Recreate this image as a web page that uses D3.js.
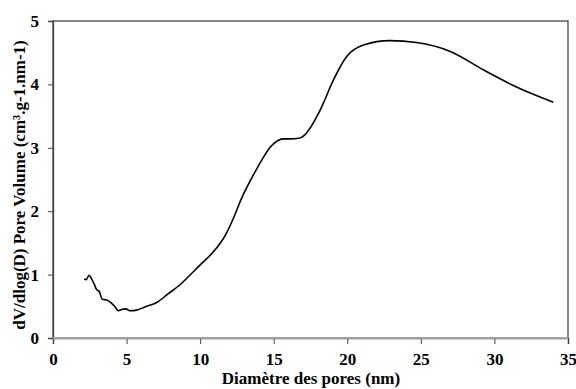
<!DOCTYPE html>
<html><head><meta charset="utf-8">
<script src="https://cdn.jsdelivr.net/npm/d3@7"></script>
<style>body{margin:0;background:#fff}svg{display:block}</style>
</head><body>
<svg id="c" width="576" height="389"></svg>
<script>
const diameter = [2.12,2.25,2.45,2.63,2.8,2.97,3.13,3.35,3.65,3.87,4.17,4.44,4.67,4.96,5.23,5.69,6.25,7.05,7.84,8.63,9.3,9.99,10.7,11.35,11.8,12.15,12.83,13.5,14.3,14.8,15.32,15.7,16.1,16.7,17.1,17.47,17.9,18.27,19.06,19.96,21.1,22.9,24.7,27.0,29.25,31.5,34.0];
const volume   = [0.93,0.92,0.99,0.93,0.85,0.76,0.74,0.61,0.60,0.57,0.505,0.43,0.45,0.46,0.43,0.44,0.49,0.56,0.70,0.84,0.99,1.15,1.31,1.49,1.66,1.83,2.21,2.52,2.85,3.02,3.12,3.14,3.14,3.15,3.2,3.31,3.48,3.65,4.07,4.44,4.62,4.69,4.66,4.52,4.23,3.96,3.72];
const xTicks = [0,5,10,15,20,25,30,35];
const yTicks = [0,1,2,3,4,5];
const xTitle = "Diamètre des pores (nm)";
const yTitle = "dV/dlog(D) Pore Volume (cm³.g-1.nm-1)";

const FONT = '"Liberation Serif"';
const m = {l:53, r:568, t:21, b:338};
const svg = d3.select("#c");
const x = d3.scaleLinear().domain([0,35]).range([m.l,m.r]);
const y = d3.scaleLinear().domain([0,5]).range([m.b,m.t]);

svg.append("rect").attr("x",m.l).attr("y",m.t).attr("width",m.r-m.l).attr("height",m.b-m.t)
  .attr("fill","none").attr("stroke","#444").attr("stroke-width",1.3);

function styleText(sel, size){
  sel.style("font-family",FONT).style("font-weight","bold").style("font-size",size).style("fill","#000");
}

const xa = svg.append("g").attr("transform",`translate(0,${m.b})`)
  .call(d3.axisBottom(x).tickValues(xTicks).tickSize(6).tickPadding(9).tickFormat(d3.format("d")));
xa.select(".domain").attr("stroke","#a0a0a0").attr("stroke-width",2);
xa.selectAll(".tick line").attr("stroke","#444");
styleText(xa.selectAll("text"),"17px");

const ya = svg.append("g").attr("transform",`translate(${m.l},0)`)
  .call(d3.axisLeft(y).tickValues(yTicks).tickSize(5).tickPadding(9).tickFormat(d3.format("d")));
ya.select(".domain").attr("stroke","#444").attr("stroke-width",1.3);
ya.selectAll(".tick line").attr("stroke","#444");
styleText(ya.selectAll("text"),"17px");
svg.append("line").attr("x1",m.l).attr("x2",m.r).attr("y1",m.b).attr("y2",m.b).attr("stroke","#a0a0a0").attr("stroke-width",2);

const data = diameter.map((d,i)=>[d,volume[i]]);
svg.append("path").datum(data)
  .attr("d", d3.line().x(d=>x(d[0])).y(d=>y(d[1])).curve(d3.curveMonotoneX))
  .attr("fill","none").attr("stroke","#000").attr("stroke-width",1.6);

styleText(svg.append("text").attr("x",311).attr("y",384).attr("text-anchor","middle").text(xTitle),"17px");
styleText(svg.append("text").attr("transform",`translate(25,185) rotate(-90)`).attr("text-anchor","middle").text(yTitle),"17px");
</script>
</body></html>
